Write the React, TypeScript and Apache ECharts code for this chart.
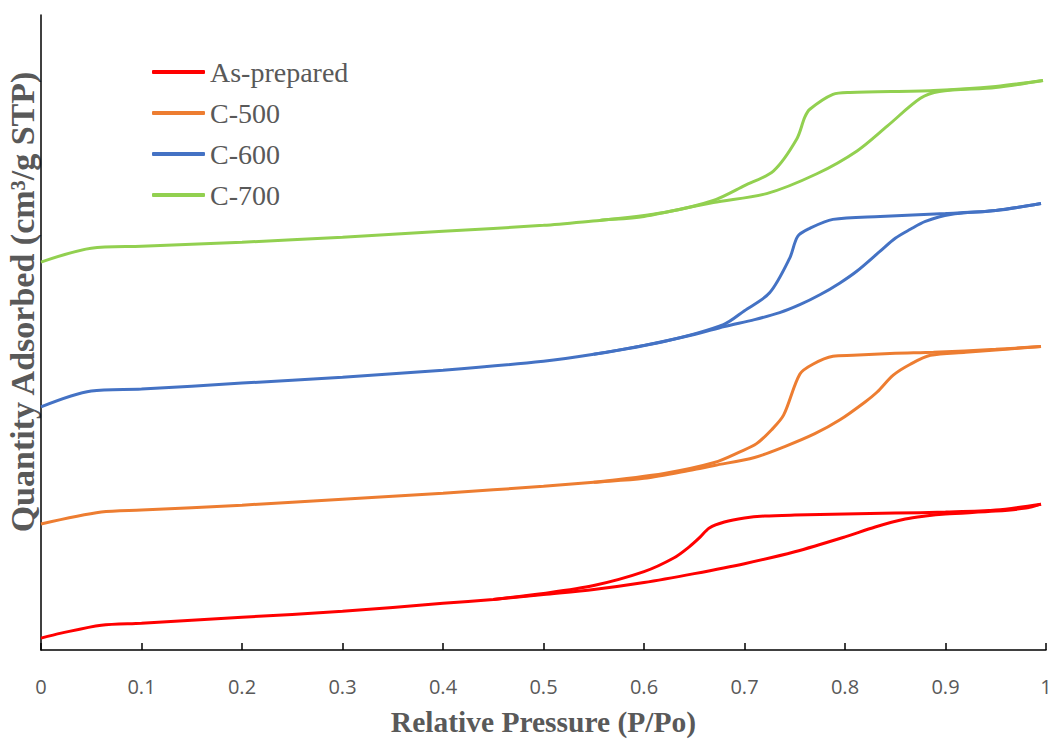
import React, { useEffect, useRef } from "react";
import * as echarts from "echarts";

// N2 sorption isotherms: adsorption (rising) and desorption (returning) branches
const sampleNames = ["As-prepared", "C-500", "C-600", "C-700"];
const sampleColors = ["#FF0000", "#ED7D31", "#4472C4", "#92D050"];
const xTicks = [0, 0.1, 0.2, 0.3, 0.4, 0.5, 0.6, 0.7, 0.8, 0.9, 1];

// As-prepared
const asPrepAdsP = [0, 0.02, 0.06, 0.1, 0.2, 0.3, 0.4, 0.45, 0.5, 0.55, 0.6, 0.65, 0.7, 0.75, 0.8, 0.83, 0.86, 0.88, 0.9, 0.95, 0.98, 0.995];
const asPrepAdsQ = [12, 17, 25, 27, 33, 39, 47, 51, 56, 61, 68, 77, 87, 99, 114, 124, 132, 135, 137, 140, 143, 147];
const asPrepDesP = [0.995, 0.95, 0.9, 0.85, 0.8, 0.75, 0.72, 0.7, 0.68, 0.665, 0.655, 0.645, 0.63, 0.6, 0.55, 0.5, 0.45];
const asPrepDesQ = [147, 141, 139, 138, 137, 136, 135, 133, 129, 123, 113, 104, 93, 79, 65, 57, 51];

// C-500
const c500AdsP = [0, 0.06, 0.1, 0.2, 0.3, 0.4, 0.5, 0.55, 0.6, 0.65, 0.67, 0.71, 0.74, 0.77, 0.795, 0.82, 0.832, 0.848, 0.865, 0.885, 0.92, 0.96, 0.995];
const c500AdsQ = [127, 139, 141, 146, 152, 158, 165, 169, 173, 182, 186, 194, 205, 218, 232, 250, 260, 277, 288, 297, 300, 303, 306];
const c500DesP = [0.995, 0.95, 0.888, 0.85, 0.808, 0.788, 0.768, 0.755, 0.739, 0.727, 0.712, 0.696, 0.67, 0.62, 0.55];
const c500DesQ = [306, 303, 300, 299, 297, 296, 288, 278, 237, 222, 208, 200, 189, 178, 169];

// C-600
const c600AdsP = [0, 0.05, 0.1, 0.2, 0.3, 0.4, 0.5, 0.55, 0.6, 0.65, 0.68, 0.71, 0.735, 0.755, 0.775, 0.795, 0.812, 0.835, 0.85, 0.865, 0.88, 0.905, 0.95, 0.995];
const c600AdsQ = [245, 261, 263, 269, 275, 282, 291, 298, 307, 318, 326, 333, 340, 348, 358, 370, 382, 402, 415, 424, 432, 439, 443, 450];
const c600DesP = [0.995, 0.95, 0.9, 0.835, 0.788, 0.765, 0.753, 0.745, 0.725, 0.7, 0.679, 0.62, 0.55];
const c600DesQ = [450, 443, 440, 437, 434, 425, 417, 395, 360, 342, 328, 311, 298];

// C-700
const c700AdsP = [0, 0.05, 0.1, 0.2, 0.3, 0.4, 0.5, 0.556, 0.6, 0.669, 0.722, 0.772, 0.812, 0.842, 0.875, 0.894, 0.95, 0.997];
const c700AdsQ = [391, 405, 407, 411, 416, 422, 428, 433, 437, 451, 460, 480, 503, 528, 556, 563, 567, 574];
const c700DesP = [0.997, 0.95, 0.888, 0.805, 0.788, 0.765, 0.76, 0.752, 0.729, 0.7, 0.669, 0.62, 0.556];
const c700DesQ = [574, 568, 564, 562, 560, 545, 537, 515, 483, 468, 453, 441, 433];

const branches = [
  [asPrepAdsP, asPrepAdsQ, asPrepDesP, asPrepDesQ],
  [c500AdsP, c500AdsQ, c500DesP, c500DesQ],
  [c600AdsP, c600AdsQ, c600DesP, c600DesQ],
  [c700AdsP, c700AdsQ, c700DesP, c700DesQ],
];

const zip = (p: number[], q: number[]) => p.map((v, i) => [v, q[i]]);

export default function App() {
  const ref = useRef<HTMLDivElement>(null);

  useEffect(() => {
    if (!ref.current) return;
    const chart = echarts.init(ref.current, null, { renderer: "svg" });

    const series: any[] = [];
    branches.forEach(([aP, aQ, dP, dQ], i) => {
      const common = {
        type: "line",
        name: sampleNames[i],
        symbol: "none",
        smooth: 0.3,
        lineStyle: { color: sampleColors[i], width: 3 },
        itemStyle: { color: sampleColors[i] },
        z: 2 + i,
      };
      series.push({ ...common, data: zip(aP, aQ) });
      series.push({ ...common, data: zip(dP, dQ) });
    });

    chart.setOption({
      animation: false,
      grid: { left: 41, right: 9, top: 15, bottom: 87, containLabel: false },
      legend: {
        data: sampleNames,
        orient: "vertical",
        left: 152,
        top: 58,
        padding: 0,
        itemWidth: 53,
        itemHeight: 4,
        itemGap: 13,
        icon: "roundRect",
        textStyle: {
          fontFamily: "Liberation Serif",
          fontSize: 28,
          lineHeight: 28,
          color: "#595959",
        },
      },
      xAxis: {
        type: "value",
        min: 0,
        max: 1,
        interval: 0.1,
        name: "Relative Pressure (P/Po)",
        nameLocation: "middle",
        nameGap: 57,
        nameTextStyle: {
          fontFamily: "Liberation Serif",
          fontWeight: "bold",
          fontSize: 29.5,
          color: "#595959",
        },
        axisLine: { lineStyle: { color: "#000000", width: 1.5 } },
        axisTick: { show: true, inside: true, length: 7, lineStyle: { color: "#000000", width: 1.5 } },
        axisLabel: {
          margin: 26,
          fontFamily: "Open Sans",
          fontSize: 20,
          color: "#595959",
          formatter: (v: number) => {
            const t = xTicks.find((x) => Math.abs(x - v) < 1e-9);
            return t === undefined ? "" : String(t);
          },
        },
        splitLine: { show: false },
      },
      yAxis: {
        type: "value",
        min: 0,
        max: 640,
        axisLine: { show: true, lineStyle: { color: "#000000", width: 1.5 } },
        axisTick: { show: false },
        axisLabel: { show: false },
        splitLine: { show: false },
      },
      graphic: [
        {
          type: "text",
          x: 22,
          y: 302,
          rotation: Math.PI / 2,
          style: {
            text: "Quantity Adsorbed (cm³/g STP)",
            fontFamily: "Liberation Serif",
            fontWeight: "bold",
            fontSize: 34,
            fill: "#595959",
            textAlign: "center",
            textVerticalAlign: "middle",
          },
        },
      ],
      series,
    });

    return () => chart.dispose();
  }, []);

  return <div ref={ref} style={{ width: 1055, height: 742, position: "absolute", left: 0, top: 0 }} />;
}
